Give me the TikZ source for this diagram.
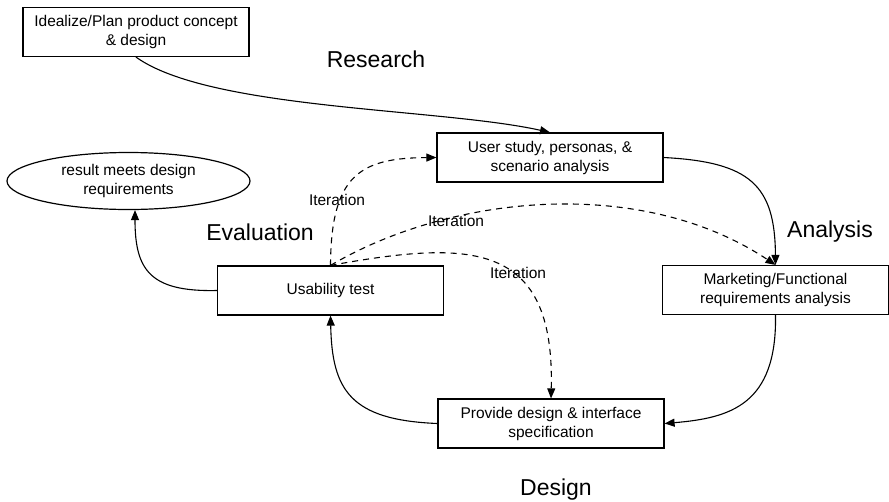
\documentclass[tikz,border=0pt]{standalone}
\usepackage{fontspec}
\setmainfont{Liberation Sans}
\usetikzlibrary{arrows.meta,shapes.geometric}
\begin{document}
\begin{tikzpicture}[x=1pt, y=-1pt, >={Triangle[length=10pt,width=8pt]},
  stagebox/.style={shape=rectangle, draw=black, line width=1.2pt, minimum width=226pt, minimum height=49pt, inner sep=0pt, align=center, font=\fontsize{15.5}{19}\selectfont},
  phase/.style={anchor=base, font=\fontsize{23}{27}\selectfont},
  iterlabel/.style={anchor=base, font=\fontsize{15.5}{19}\selectfont},
  flow/.style={->, line width=1.1pt, draw=black},
  iter/.style={->, line width=1.1pt, draw=black, dash pattern=on 6pt off 5pt}]
\useasboundingbox (0,0) rectangle (889,501);
\node[stagebox] (idea) at (136,32) {Idealize/Plan product concept\\ \& design};
\node[stagebox] (user) at (550,157.5) {User study, personas, \&\\ scenario analysis};
\node[stagebox] (market) at (775.5,290) {Marketing/Functional\\ requirements analysis};
\node[stagebox] (spec) at (551,423.5) {Provide design \& interface\\ specification};
\node[stagebox] (test) at (330.5,290.5) {Usability test};
\node[shape=ellipse, draw=black, line width=1.2pt, minimum width=243pt, minimum height=57pt, inner sep=0pt, align=center, font=\fontsize{15.5}{19}\selectfont] (res) at (128.5,181) {result meets design\\ requirements};
\node[phase] (research) at (376,67) {Research};
\node[phase] (analysis) at (830,237) {Analysis};
\node[phase] (design) at (556,495) {Design};
\node[phase] (evaluation) at (260,240) {Evaluation};
\node[iterlabel] (it1) at (337,205) {Iteration};
\node[iterlabel] (it2) at (456,226) {Iteration};
\node[iterlabel] (it3) at (518,278) {Iteration};
\coordinate (resin) at ([xshift=6.5pt]res.south);
\draw [flow] (idea.south) .. controls (210,110) and (440,108) .. (user.north);
\draw [flow] (user.east) .. controls (750,162) and (775,185) .. (market.north);
\draw [flow] (market.south) .. controls (777,405) and (730,418) .. (spec.east);
\draw [flow] (spec.west) .. controls (350,420) and (332,390) .. (test.south);
\draw [flow] (test.west) .. controls (150,292) and (135,270) .. (resin);
\draw [iter] (test.north) .. controls (331,175) and (360,158) .. (user.west);
\draw [iter] (test.north) .. controls (450,195) and (640,175) .. (market.north);
\draw [iter] (test.north) .. controls (470,240) and (555,240) .. (spec.north);
\end{tikzpicture}
\end{document}
